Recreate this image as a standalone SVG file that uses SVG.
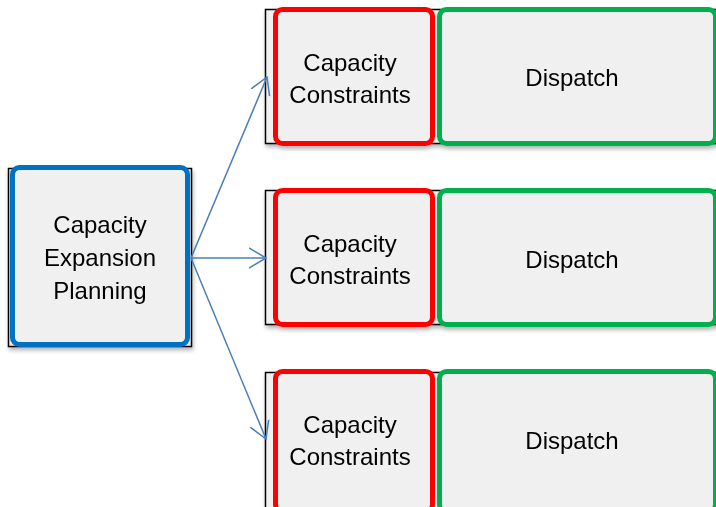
<svg xmlns="http://www.w3.org/2000/svg" width="716" height="507" viewBox="0 0 716 507">
  <style>
    .frame { fill: #f0f0f0; stroke: #000; stroke-width: 1.5; }
    .plan { fill: #f0f0f0; stroke: #0070c0; stroke-width: 5; }
    .cap { fill: #f0f0f0; stroke: #ff0000; stroke-width: 5; }
    .disp { fill: #f0f0f0; stroke: #00b050; stroke-width: 5; }
    .box { filter: url(#shadow); }
    text { font-family: "Liberation Sans", Arial, sans-serif; font-size: 24px; fill: #000; text-anchor: middle; }
    .link { fill: none; stroke: #4a7ebb; stroke-width: 1.5; marker-end: url(#arrow); }
  </style>
  <defs>
    <filter id="shadow" x="-5%" y="-5%" width="115%" height="115%">
      <feGaussianBlur in="SourceAlpha" stdDeviation="2"/>
      <feOffset dx="1" dy="3" result="b"/>
      <feComponentTransfer><feFuncA type="linear" slope="0.3"/></feComponentTransfer>
      <feMerge><feMergeNode/><feMergeNode in="SourceGraphic"/></feMerge>
    </filter>
    <marker id="arrow" markerWidth="20" markerHeight="24" refX="17" refY="11" orient="auto" markerUnits="userSpaceOnUse">
      <polyline points="0,1 17,11 0,21" fill="none" stroke="#4a7ebb" stroke-width="1.5"/>
    </marker>
  </defs>

  <g id="planning" class="box">
    <rect class="frame" x="8.5" y="168.5" width="183" height="178"/>
    <rect class="plan" x="12.5" y="167.5" width="175" height="177" rx="7"/>
    <text x="100" y="233">Capacity</text>
    <text x="100" y="266">Expansion</text>
    <text x="100" y="299">Planning</text>
  </g>

  <g id="scenario-1" class="box">
    <rect class="frame" x="265.5" y="9.5" width="460" height="134"/>
    <rect class="cap" x="275.5" y="9.5" width="157" height="134" rx="7"/>
    <rect class="disp" x="439.5" y="9.5" width="276" height="134" rx="7"/>
    <text x="350" y="71">Capacity</text>
    <text x="350" y="103">Constraints</text>
    <text x="572" y="86">Dispatch</text>
  </g>

  <g id="scenario-2" class="box">
    <rect class="frame" x="265.5" y="190.5" width="460" height="134"/>
    <rect class="cap" x="275.5" y="190.5" width="157" height="134" rx="7"/>
    <rect class="disp" x="439.5" y="190.5" width="276" height="134" rx="7"/>
    <text x="350" y="252">Capacity</text>
    <text x="350" y="284">Constraints</text>
    <text x="572" y="268">Dispatch</text>
  </g>

  <g id="scenario-3" class="box">
    <rect class="frame" x="265.5" y="372.5" width="460" height="140"/>
    <rect class="cap" x="275.5" y="371.5" width="157" height="140" rx="7"/>
    <rect class="disp" x="439.5" y="371.5" width="276" height="140" rx="7"/>
    <text x="350" y="433">Capacity</text>
    <text x="350" y="465">Constraints</text>
    <text x="572" y="449">Dispatch</text>
  </g>

  <g id="connectors">
    <line class="link" x1="191" y1="258" x2="267" y2="77"/>
    <line class="link" x1="191" y1="258" x2="266" y2="258"/>
    <line class="link" x1="191" y1="258" x2="266" y2="439"/>
  </g>
</svg>
